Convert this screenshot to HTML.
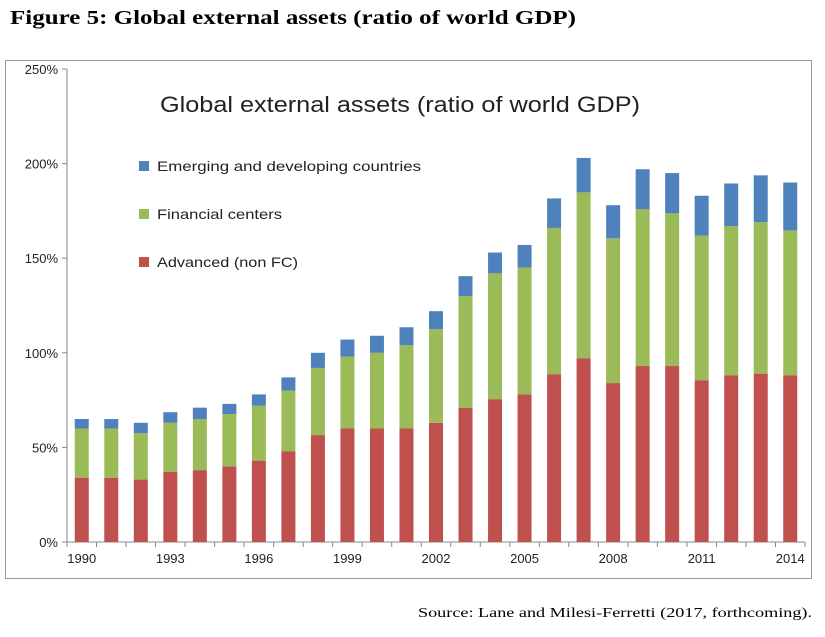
<!DOCTYPE html>
<html><head><meta charset="utf-8"><style>
body{margin:0;background:#fff;width:825px;height:632px;overflow:hidden;font-family:"Liberation Sans",sans-serif}
</style></head><body>
<svg width="825" height="632">
<text x="10" y="24" font-family="Liberation Serif,serif" font-weight="bold" font-size="20" textLength="566" lengthAdjust="spacingAndGlyphs">Figure 5:  Global external assets (ratio of world GDP)</text>
<rect x="5.5" y="60.5" width="806" height="518" fill="#fff" stroke="#999"/>
<text x="160" y="112" font-size="22" fill="#222" textLength="480" lengthAdjust="spacingAndGlyphs">Global external assets (ratio of world GDP)</text>
<g id="axes"></g><g id="bars"></g>
<g>
<rect x="139" y="161" width="10" height="10" fill="#4F81BD"/>
<text x="157" y="171" font-size="14" fill="#222" textLength="264" lengthAdjust="spacingAndGlyphs">Emerging and developing countries</text>
<rect x="139" y="209" width="10" height="10" fill="#9BBB59"/>
<text x="157" y="219" font-size="14" fill="#222" textLength="125" lengthAdjust="spacingAndGlyphs">Financial centers</text>
<rect x="139" y="257" width="10" height="10" fill="#C0504D"/>
<text x="157" y="267" font-size="14" fill="#222" textLength="141" lengthAdjust="spacingAndGlyphs">Advanced (non FC)</text>
</g>
<text x="418" y="617" font-family="Liberation Serif,serif" font-size="14" textLength="394" lengthAdjust="spacingAndGlyphs">Source: Lane and Milesi-Ferretti (2017, forthcoming).</text>
</svg>
<script>
const years=[1990,1991,1992,1993,1994,1995,1996,1997,1998,1999,2000,2001,2002,2003,2004,2005,2006,2007,2008,2009,2010,2011,2012,2013,2014];
const advanced=[34,34,33,37,38,40,43,48,56.5,60,60,60,63,71,75.5,78,88.7,97,84,93,93,85.5,88,89,88];
const financialCenters=[26,26,24.5,26,27,27.6,29,32,35.5,38,40,44,49.5,59,66.5,67,77.3,87.8,76.5,83,80.7,76.5,79,80,76.7];
const emerging=[5,5,5.5,5.6,6,5.4,6,7,8,9,9,9.5,9.5,10.5,11,12,15.6,18.2,17.5,21,21.3,21,22.5,24.8,25.3];
const yTicks=[0,50,100,150,200,250];
const xLabels=[1990,1993,1996,1999,2002,2005,2008,2011,2014];
const L=67,R=805,T=69,B=542,NS="http://www.w3.org/2000/svg";
const y=v=>B-(v/250)*(B-T);
const step=(R-L)/years.length;
const x=i=>L+step*(i+0.5);
function mk(t,a,p){const e=document.createElementNS(NS,t);for(const k in a)e.setAttribute(k,a[k]);p.appendChild(e);return e;}
const ax=document.getElementById('axes'),bg=document.getElementById('bars');
let l=mk('line',{x1:L,y1:T,x2:L,y2:B,stroke:'#888'},ax);


l=mk('line',{x1:L,y1:B,x2:R,y2:B,stroke:'#888'},ax);


yTicks.forEach(v=>{mk('line',{x1:L-5,y1:y(v),x2:L,y2:y(v),stroke:'#888'},ax);
const t=mk('text',{x:L-9,y:y(v)+5,'text-anchor':'end','font-size':13,fill:'#222'},ax);t.textContent=v+'%';

});
for(let i=0;i<=years.length;i++)mk('line',{x1:L+step*i,y1:B,x2:L+step*i,y2:B+5,stroke:'#888'},ax);
xLabels.forEach(yr=>{const i=years.indexOf(yr);const t=mk('text',{x:x(i),y:B+21,'text-anchor':'middle','font-size':13,fill:'#222'},ax);t.textContent=yr;

});
const bw=14;
years.forEach((yr,i)=>{let base=0;
[[advanced,'#C0504D','advanced'],[financialCenters,'#9BBB59','fc'],[emerging,'#4F81BD','emerging']].forEach(([arr,c,n])=>{
const top=base+arr[i];const r=mk('rect',{x:x(i)-bw/2,y:y(top),width:bw,height:y(base)-y(top),fill:c},bg);


base=top;});});
</script>
</body></html>
